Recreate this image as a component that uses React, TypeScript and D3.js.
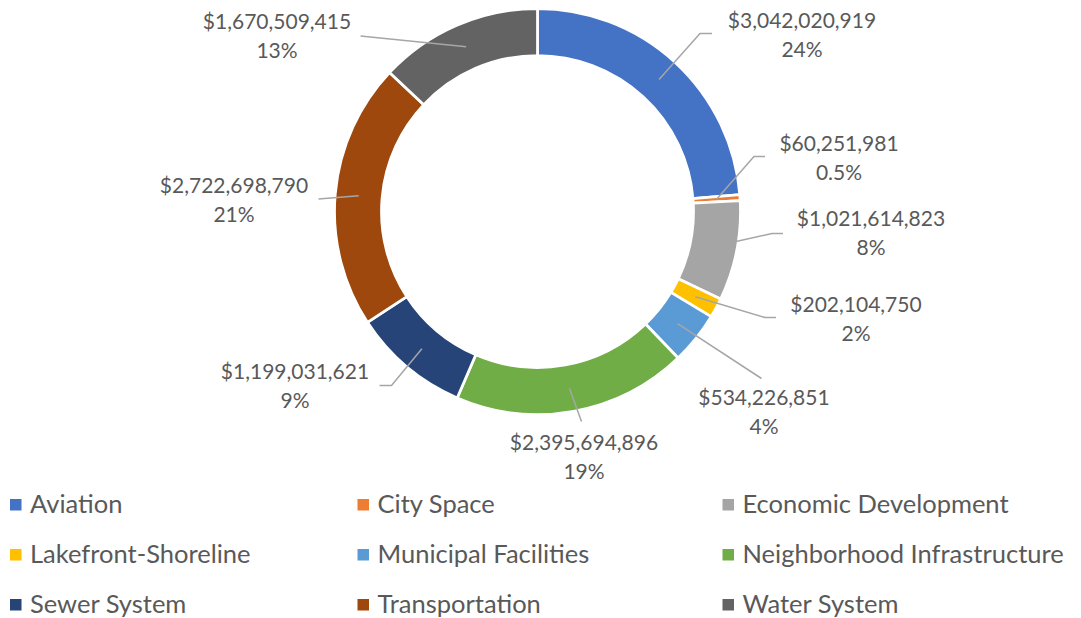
import React from "react";
import * as d3 from "d3";

const categories = [
  "Aviation",
  "City Space",
  "Economic Development",
  "Lakefront-Shoreline",
  "Municipal Facilities",
  "Neighborhood Infrastructure",
  "Sewer System",
  "Transportation",
  "Water System",
];
const values = [
  3042020919, 60251981, 1021614823, 202104750, 534226851, 2395694896,
  1199031621, 2722698790, 1670509415,
];
const colors = [
  "#4472C4", "#ED7D31", "#A5A5A5", "#FFC000", "#5B9BD5", "#70AD47",
  "#264478", "#9E480E", "#636363",
];

// label layout: text centre x, first baseline y, leader elbow and end points
const labelLayout = [
  { x: 802, y: 28, elbow: [700, 33.5], end: [712, 33.5] },
  { x: 839, y: 151, elbow: [754, 156.5], end: [765, 156.5] },
  { x: 871, y: 226, elbow: [772, 233.5], end: [783, 233.5] },
  { x: 856, y: 312, elbow: [765, 317.5], end: [776, 317.5] },
  { x: 764, y: 405, elbow: [761.5, 378.5], end: [761.5, 378.5] },
  { x: 584, y: 450, elbow: [581.5, 421.5], end: [581.5, 421.5] },
  { x: 295, y: 379, elbow: [391.5, 385.5], end: [379.5, 385.5] },
  { x: 234, y: 193, elbow: [318.5, 199], end: [318.5, 199] },
  { x: 277, y: 29, elbow: [360.5, 36], end: [360.5, 36] },
];

const legendCols = [10, 357.5, 722.5];
const legendRows = [513, 563, 613];

const W = 1081;
const H = 618;
const cx = 537.5;
const cy = 211.5;
const rOuter = 203;
const rInner = 156;
const FONT = "Lato, 'Open Sans', sans-serif";
const TEXT = "#595959";

export default function App() {
  const total = d3.sum(values);
  const pie = d3.pie<number>().sort(null).value((d) => d);
  const arcs = pie(values);
  const arc = d3.arc<d3.PieArcDatum<number>>().innerRadius(rInner).outerRadius(rOuter);
  const mid = d3.arc<d3.PieArcDatum<number>>()
    .innerRadius((rInner + rOuter) / 2)
    .outerRadius((rInner + rOuter) / 2);
  const money = d3.format("$,");
  const pct = (v: number) => {
    const p = (v / total) * 100;
    return p < 1 ? p.toFixed(1) + "%" : Math.round(p) + "%";
  };

  return (
    <svg
      width={W}
      height={H}
      style={{ position: "absolute", left: 0, top: 0, background: "#fff" }}
      fontFamily={FONT}
    >
      <g transform={`translate(${cx},${cy})`}>
        {arcs.map((a, i) => (
          <path key={i} d={arc(a) || ""} fill={colors[i]} stroke="#fff" strokeWidth={2.75} />
        ))}
      </g>
      {arcs.map((a, i) => {
        const [mx, my] = mid.centroid(a);
        const L = labelLayout[i];
        const pts = [[cx + mx, cy + my], L.elbow, L.end];
        return (
          <polyline
            key={"l" + i}
            points={pts.map((p) => p.join(",")).join(" ")}
            fill="none"
            stroke="#A6A6A6"
            strokeWidth={1.5}
          />
        );
      })}
      {values.map((v, i) => {
        const L = labelLayout[i];
        return (
          <text key={"t" + i} x={L.x} y={L.y} textAnchor="middle" fontSize={21} fill={TEXT}>
            <tspan x={L.x} y={L.y}>{money(v)}</tspan>
            <tspan x={L.x} y={L.y + 29}>{pct(v)}</tspan>
          </text>
        );
      })}
      {categories.map((c, i) => {
        const col = legendCols[i % 3];
        const row = legendRows[Math.floor(i / 3)];
        return (
          <g key={"g" + i}>
            <rect x={col} y={row - 14} width={11.5} height={11.5} fill={colors[i]} />
            <text x={col + 20} y={row} fontSize={25.5} fill={TEXT}>{c}</text>
          </g>
        );
      })}
    </svg>
  );
}
